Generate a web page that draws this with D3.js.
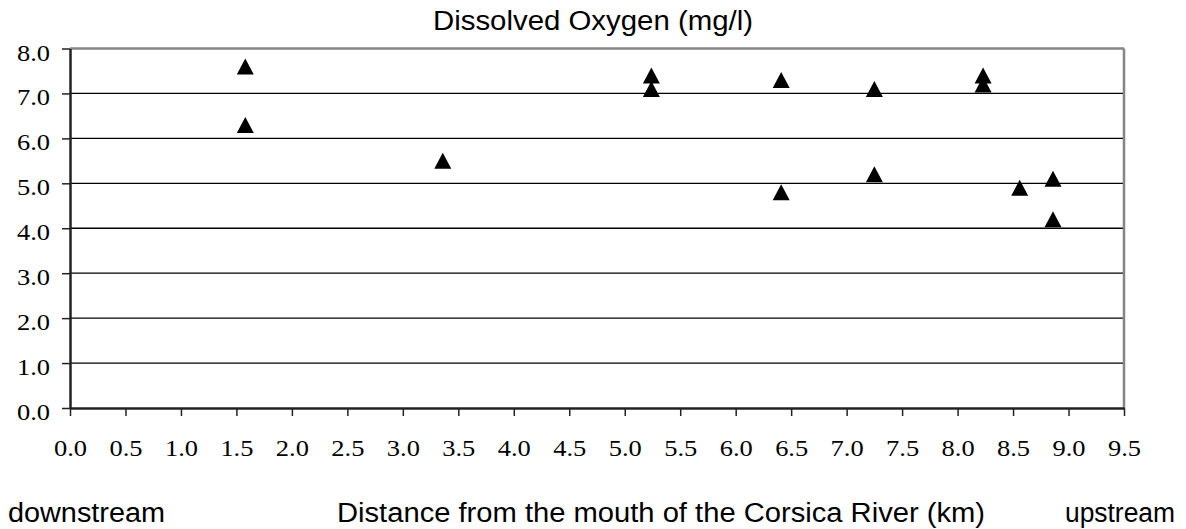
<!DOCTYPE html>
<html>
<head>
<meta charset="utf-8">
<script src="https://cdn.jsdelivr.net/npm/d3@7"></script>
<style>
  body { margin: 0; background: #fff; }
  svg { display: block; }
</style>
</head>
<body>
<svg id="chart" width="1186" height="529"></svg>
<script>
// Distance from mouth (km) and dissolved oxygen (mg/l)
const distances = [1.58, 1.58, 3.36, 5.24, 5.24, 6.41, 6.41, 7.25, 7.25, 8.23, 8.23, 8.56, 8.86, 8.86];
const oxygen    = [7.6, 6.3, 5.5, 7.4, 7.1, 7.3, 4.8, 7.1, 5.2, 7.4, 7.2, 4.9, 5.1, 4.2];

const xTicks = d3.range(0, 9.51, 0.5);
const yTicks = d3.range(0, 8.01, 1);

const svg = d3.select('#chart');
const margin = { top: 48.5, right: 62, bottom: 121, left: 70 };
const width = 1186, height = 529;

const x = d3.scaleLinear().domain([0, 9.5]).range([margin.left, width - margin.right]);
const y = d3.scaleLinear().domain([0, 8]).range([height - margin.bottom, margin.top]);

const serif = "'Liberation Serif', 'Times New Roman', serif";
const sans = "'Liberation Sans', Arial, sans-serif";

// the original text is a bit wider than the fonts here, so stretch it
function stretch(sel, factor) {
  sel.each(function () {
    const w = this.getComputedTextLength();
    d3.select(this).attr('textLength', w * factor).attr('lengthAdjust', 'spacingAndGlyphs');
  });
}

// Gridlines
svg.append('g')
  .selectAll('line')
  .data(yTicks.filter(d => d > 0 && d < 8))
  .join('line')
  .attr('x1', x(0)).attr('x2', x(9.5))
  .attr('y1', d => y(d)).attr('y2', d => y(d))
  .attr('stroke', '#000')
  .attr('stroke-width', 1.3);

// Plot border (top and right in grey)
svg.append('line')
  .attr('x1', x(0)).attr('x2', x(9.5))
  .attr('y1', y(8)).attr('y2', y(8))
  .attr('stroke', '#858585').attr('stroke-width', 2.5);
svg.append('line')
  .attr('x1', x(9.5)).attr('x2', x(9.5))
  .attr('y1', y(8)).attr('y2', y(0))
  .attr('stroke', '#858585').attr('stroke-width', 2.5);

// Y axis
const yAxis = svg.append('g')
  .attr('transform', `translate(${x(0)},0)`)
  .call(d3.axisLeft(y).tickValues(yTicks).tickFormat(d3.format('.1f')).tickSize(8).tickSizeOuter(0).tickPadding(12));
yAxis.select('.domain').attr('stroke', '#222').attr('stroke-width', 2.5);
yAxis.selectAll('.tick line').attr('stroke', '#222').attr('stroke-width', 1.5);
yAxis.selectAll('.tick text')
  .attr('font-family', serif)
  .attr('font-size', 23)
  .attr('fill', '#000')
  .attr('dy', 11.5)
  .call(stretch, 1.15);

// X axis
const xAxis = svg.append('g')
  .attr('transform', `translate(0,${y(0)})`)
  .call(d3.axisBottom(x).tickValues(xTicks).tickFormat(d3.format('.1f')).tickSize(8).tickSizeOuter(0).tickPadding(12));
xAxis.select('.domain').attr('stroke', '#222').attr('stroke-width', 2.5);
xAxis.selectAll('.tick line').attr('stroke', '#222').attr('stroke-width', 1.5);
xAxis.selectAll('.tick text')
  .attr('font-family', serif)
  .attr('font-size', 23)
  .attr('fill', '#000')
  .attr('dy', 28)
  .call(stretch, 1.15);

// Triangle markers
const tw = 17, th = 16;
svg.append('g')
  .selectAll('path')
  .data(distances.map((d, i) => ({ x: d, y: oxygen[i] })))
  .join('path')
  .attr('d', d => {
    const cx = x(d.x), cy = y(d.y);
    return `M${cx},${cy - th / 2}L${cx + tw / 2},${cy + th / 2}L${cx - tw / 2},${cy + th / 2}Z`;
  })
  .attr('fill', '#000');

// Title
svg.append('text')
  .attr('x', 593)
  .attr('y', 30)
  .attr('text-anchor', 'middle')
  .attr('font-family', sans)
  .attr('font-size', 27)
  .attr('textLength', 320)
  .attr('lengthAdjust', 'spacingAndGlyphs')
  .text('Dissolved Oxygen (mg/l)');

// Bottom labels
const bottom = svg.append('g')
  .attr('font-family', sans)
  .attr('font-size', 27)
  .attr('fill', '#000');
bottom.append('text').attr('x', 8).attr('y', 521.5)
  .attr('textLength', 157).attr('lengthAdjust', 'spacingAndGlyphs')
  .text('downstream');
bottom.append('text').attr('x', 337).attr('y', 521.5)
  .attr('textLength', 648).attr('lengthAdjust', 'spacingAndGlyphs')
  .text('Distance from the mouth of the Corsica River (km)');
bottom.append('text').attr('x', 1065).attr('y', 521.5)
  .attr('textLength', 110).attr('lengthAdjust', 'spacingAndGlyphs')
  .text('upstream');
</script>
</body>
</html>
